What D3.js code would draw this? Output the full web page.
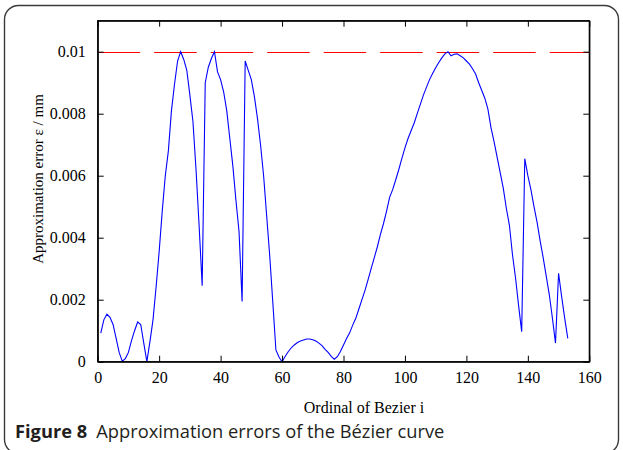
<!DOCTYPE html>
<html>
<head>
<meta charset="utf-8">
<script src="https://cdn.jsdelivr.net/npm/d3@7"></script>
<style>
  body { margin: 0; background: #fff; }
  svg { display: block; }
</style>
</head>
<body>
<div id="chart"></div>
<script>
// approximation error (mm) for each Bezier segment, i = 1..153
const errorValues = [
  0.00092, 0.00135, 0.00153, 0.00143, 0.00120, 0.00075, 0.00029, 0.00002, 0.00010, 0.00030,
  0.00068, 0.00100, 0.00128, 0.00120, 0.00060, 0.00000, 0.00065, 0.00135, 0.00240, 0.00355,
  0.00485, 0.00600, 0.00680, 0.00810, 0.00895, 0.00970, 0.01000, 0.00975, 0.00940, 0.00860,
  0.00775, 0.00620, 0.00440, 0.00245, 0.00900, 0.00950, 0.00978, 0.01000, 0.00935, 0.00910,
  0.00870, 0.00810, 0.00720, 0.00630, 0.00520, 0.00420, 0.00194, 0.00970, 0.00940, 0.00910,
  0.00855, 0.00785, 0.00700, 0.00600, 0.00470, 0.00340, 0.00190, 0.00038, 0.00015, 0.00000,
  0.00017, 0.00032, 0.00045, 0.00054, 0.00062, 0.00067, 0.00070, 0.00073, 0.00073, 0.00071,
  0.00067, 0.00060, 0.00052, 0.00040, 0.00030, 0.00017, 0.00008, 0.00016, 0.00033, 0.00054,
  0.00075, 0.00093, 0.00118, 0.00140, 0.00170, 0.00200, 0.00230, 0.00265, 0.00300, 0.00335,
  0.00370, 0.00410, 0.00445, 0.00485, 0.00530, 0.00555, 0.00587, 0.00620, 0.00656, 0.00690,
  0.00720, 0.00745, 0.00770, 0.00800, 0.00830, 0.00860, 0.00885, 0.00910, 0.00930, 0.00948,
  0.00965, 0.00980, 0.00993, 0.01000, 0.00987, 0.00992, 0.00993, 0.00987, 0.00980, 0.00970,
  0.00960, 0.00945, 0.00928, 0.00900, 0.00875, 0.00850, 0.00815, 0.00755, 0.00710, 0.00660,
  0.00610, 0.00560, 0.00495, 0.00440, 0.00345, 0.00270, 0.00180, 0.00097, 0.00655, 0.00600,
  0.00555, 0.00500, 0.00450, 0.00390, 0.00335, 0.00275, 0.00215, 0.00140, 0.00060, 0.00285,
  0.00210, 0.00140, 0.00075
];
const ordinals = errorValues.map((d, k) => k + 1);
const tolerance = 0.01;

const xTicks = [0, 20, 40, 60, 80, 100, 120, 140, 160];
const yTicks = [0, 0.002, 0.004, 0.006, 0.008, 0.01];
const yTickLabels = ["0", "0.002", "0.004", "0.006", "0.008", "0.01"];

const W = 623, H = 450;
const plot = { left: 97.7, right: 589.3, top: 20.7, bottom: 361.7 };

const svg = d3.select("#chart")
    .append("svg")
    .attr("width", W)
    .attr("height", H);

// rounded figure frame
svg.append("rect")
    .attr("x", 4.5)
    .attr("y", 5.5)
    .attr("width", 614)
    .attr("height", 448)
    .attr("rx", 14)
    .attr("fill", "none")
    .attr("stroke", "#3a3a3a")
    .attr("stroke-width", 1.4);

const xScale = d3.scaleLinear()
    .domain([0, 160])
    .range([plot.left, plot.right]);

const yScale = d3.scaleLinear()
    .domain([0, 0.011])
    .range([plot.bottom, plot.top]);

const serif = "'Liberation Serif', 'Times New Roman', serif";

// tolerance line (snapped to the pixel grid so it stays crisp red)
const tolY = Math.round(yScale(tolerance)) + 0.5;
svg.append("line")
    .attr("x1", xScale(0))
    .attr("x2", xScale(160))
    .attr("y1", tolY)
    .attr("y2", tolY)
    .attr("stroke", "#ff0000")
    .attr("stroke-width", 1)
    .attr("stroke-dasharray", "42.5,14");

// error curve
const line = d3.line()
    .x((d, k) => xScale(ordinals[k]))
    .y(d => yScale(d));

svg.append("path")
    .datum(errorValues)
    .attr("d", line)
    .attr("fill", "none")
    .attr("stroke", "#0000ff")
    .attr("stroke-width", 1.1);

// axes box with inward ticks on all four sides
const tickLen = 6;
svg.append("g")
    .attr("transform", `translate(0, ${plot.bottom})`)
    .call(d3.axisBottom(xScale).tickValues(xTicks).tickSizeInner(-tickLen).tickSizeOuter(0).tickPadding(10))
    .call(g => g.selectAll("text").attr("font-family", serif).attr("font-size", 16).attr("fill", "#000"));

svg.append("g")
    .attr("transform", `translate(0, ${plot.top})`)
    .call(d3.axisTop(xScale).tickValues(xTicks).tickSizeInner(-tickLen).tickSizeOuter(0).tickFormat(""));

svg.append("g")
    .attr("transform", `translate(${plot.left}, 0)`)
    .call(d3.axisLeft(yScale).tickValues(yTicks).tickSizeInner(-tickLen).tickSizeOuter(0).tickPadding(12)
        .tickFormat((d, k) => yTickLabels[k]))
    .call(g => g.selectAll("text").attr("font-family", serif).attr("font-size", 16).attr("fill", "#000"));

svg.append("g")
    .attr("transform", `translate(${plot.right}, 0)`)
    .call(d3.axisRight(yScale).tickValues(yTicks).tickSizeInner(-tickLen).tickSizeOuter(0).tickFormat(""));

svg.selectAll(".domain").attr("stroke", "#000").attr("stroke-width", 1.2);
svg.selectAll(".tick line").attr("stroke", "#000");

// the top and right edges need the full box line
svg.append("rect")
    .attr("x", plot.left)
    .attr("y", plot.top)
    .attr("width", plot.right - plot.left)
    .attr("height", plot.bottom - plot.top)
    .attr("fill", "none")
    .attr("stroke", "#000")
    .attr("stroke-width", 1.2);

// axis titles
svg.append("text")
    .attr("x", 364)
    .attr("y", 413)
    .attr("text-anchor", "middle")
    .attr("font-family", serif)
    .attr("font-size", 16)
    .text("Ordinal of Bezier i");

svg.append("text")
    .attr("transform", `translate(43, 179) rotate(-90)`)
    .attr("text-anchor", "middle")
    .attr("font-family", serif)
    .attr("font-size", 15)
    .text("Approximation error ε / mm");

// caption
const caption = svg.append("text")
    .attr("x", 15)
    .attr("y", 438)
    .attr("font-family", "'Open Sans', 'Noto Sans', sans-serif")
    .attr("font-size", 18.3)
    .attr("fill", "#231f20");
caption.append("tspan").attr("font-weight", "bold").text("Figure 8");
caption.append("tspan").attr("dx", 9).text("Approximation errors of the Bézier curve");
</script>
</body>
</html>
